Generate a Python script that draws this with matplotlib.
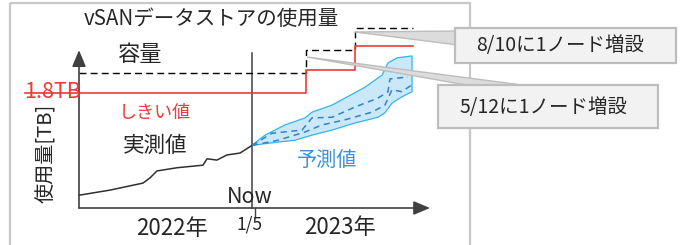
#!/usr/bin/env python

import matplotlib
matplotlib.use('Agg')
from matplotlib import pyplot as plt
from matplotlib.patches import Rectangle, Polygon

plt.rcParams['font.family'] = ['Noto Sans CJK JP', 'DejaVu Sans']

# x: months from the start of the axis, y: usage in TB
now_x = 12.0
x_end = 24.35
y_top = 2.47

actual_x = [0, 2.15, 4.44, 4.92, 5.41, 6.80, 8.60, 8.88, 9.57, 10.26, 11.17, 12.0]
actual_y = [0.20, 0.28, 0.39, 0.47, 0.58, 0.63, 0.67, 0.77, 0.75, 0.83, 0.86, 0.98]

band_up_x = [12.0, 12.90, 14.29, 15.68, 16.16, 17.55, 18.45, 19.84, 21.02, 21.43, 22.06, 23.10]
band_up_y = [0.98, 1.14, 1.30, 1.41, 1.50, 1.61, 1.72, 1.89, 2.08, 2.27, 2.35, 2.38]
band_lo_x = [23.10, 22.40, 21.71, 21.22, 20.74, 19.14, 17.55, 16.16, 14.98, 13.39, 12.0]
band_lo_y = [1.82, 1.74, 1.64, 1.49, 1.42, 1.33, 1.22, 1.14, 1.06, 1.02, 0.98]

dash_hi_x = [12.0, 13.39, 15.47, 16.16, 17.55, 19.14, 20.74, 21.43, 21.57, 22.82]
dash_hi_y = [0.98, 1.17, 1.22, 1.41, 1.42, 1.58, 1.72, 1.82, 2.02, 2.05]
dash_lo_x = [12.0, 13.80, 15.68, 16.86, 18.45, 20.32, 21.22, 21.71, 22.40, 23.10]
dash_lo_y = [0.98, 1.06, 1.19, 1.30, 1.38, 1.50, 1.61, 1.85, 1.82, 1.93]

cap_x = [0, 15.75, 19.15, 23.17]
cap_y = [2.117, 2.47, 2.81, 2.81]
thr_x = [-3.75, 15.75, 19.15, 23.17]
thr_y = [1.80, 2.16, 2.54, 2.54]

title = 'vSANデータストアの使用量'
notes = ['8/10に1ノード増設', '5/12に1ノード増設']

W, H = 681, 245
px_x = 14.417   # pixels per month
px_y = 63.9     # pixels per TB
ox, oy = 79, 208

dark = '#404040'
txt = '#262626'
red = '#f03a3a'
blue_txt = '#3d8fdb'


def MakePlot():
    fig = plt.figure(figsize=(W / 100, H / 100), dpi=100)
    ax = fig.add_axes([0, 0, 1, 1])
    ax.set_xlim(-ox / px_x, (W - ox) / px_x)
    ax.set_ylim(-(H - oy) / px_y, oy / px_y)
    ax.axis('off')

    # axes arrows
    arw = dict(arrowstyle='-|>,head_length=1.0,head_width=0.42', mutation_scale=10,
               lw=1.2, color=dark, shrinkA=0, shrinkB=0)
    ax.annotate('', xy=(x_end, 0), xytext=(0, 0), arrowprops=arw)
    ax.annotate('', xy=(0, y_top), xytext=(0, 0), arrowprops=arw)
    ax.plot([now_x, now_x], [0, 2.43], color=dark, lw=1.1)
    ax.plot([now_x + 0.2, now_x + 0.2], [0, -0.14], color=dark, lw=1.0)

    ax.step(cap_x, cap_y, where='post', color='black', lw=1.0, ls=(0, (5, 3)))
    ax.step(thr_x, thr_y, where='post', color=red, lw=1.2)

    ax.plot(actual_x, actual_y, color='#303030', lw=1.1)

    ax.fill(band_up_x + band_lo_x, band_up_y + band_lo_y, facecolor='#c9e9fa',
            edgecolor='#35b3ec', lw=0.9)
    ax.plot(dash_hi_x, dash_hi_y, color='#3a7fc4', lw=1.1, ls=(0, (4, 3)))
    ax.plot(dash_lo_x, dash_lo_y, color='#3a7fc4', lw=1.1, ls=(0, (4, 3)))

    # overlay in pixel units for frame, labels and callouts
    ov = fig.add_axes([0, 0, 1, 1])
    ov.set_xlim(0, W)
    ov.set_ylim(H, 0)
    ov.axis('off')
    ov.patch.set_visible(False)

    ov.add_patch(Rectangle((10, 3), 460, 260, fill=False, ec='#c8c8c8', lw=1.6))

    ov.text(211, 19, title, fontsize=14.8, color=txt, ha='center', va='center')
    ov.text(140, 54, '容量', fontsize=16, color=txt, ha='center', va='center')
    ov.text(24, 92, '1.8TB', fontsize=15.5, color=red, ha='left', va='center')
    ov.text(155, 113, 'しきい値', fontsize=13, color=red, ha='center', va='center')
    ov.text(155, 146, '実測値', fontsize=15.5, color=txt, ha='center', va='center')
    ov.text(327, 160, '予測値', fontsize=14.5, color=blue_txt, ha='center', va='center')
    ov.text(250, 197, 'Now', fontsize=15.5, color=txt, ha='center', va='center')
    ov.text(249, 224, '1/5', fontsize=12.5, color=txt, ha='center', va='center')
    ov.text(172, 228, '2022年', fontsize=16, color=txt, ha='center', va='center')
    ov.text(340, 227, '2023年', fontsize=16, color=txt, ha='center', va='center')
    ov.text(47, 153, '使用量[TB]', fontsize=14.5, color=txt, ha='center', va='center',
            rotation=90)

    # callouts
    ov.add_patch(Polygon([(355, 32), (458, 31), (458, 45)], closed=True,
                         fc='#dcdcdc', ec='#bdbdbd', lw=1.0))
    ov.add_patch(Rectangle((455, 28), 221, 35, fc='#f2f2f2', ec='#bdbdbd', lw=1.6))
    ov.text(560, 46, notes[0], fontsize=14, color=txt, ha='center', va='center')

    ov.add_patch(Polygon([(307, 57), (530, 86), (472, 86)], closed=True,
                         fc='#dcdcdc', ec='#bdbdbd', lw=1.0))
    ov.add_patch(Rectangle((438, 85), 220, 43, fc='#f2f2f2', ec='#bdbdbd', lw=1.6))
    ov.text(543, 107, notes[1], fontsize=14, color=txt, ha='center', va='center')

    fig.savefig('out.png', dpi=100)


if __name__ == '__main__':
    MakePlot()
